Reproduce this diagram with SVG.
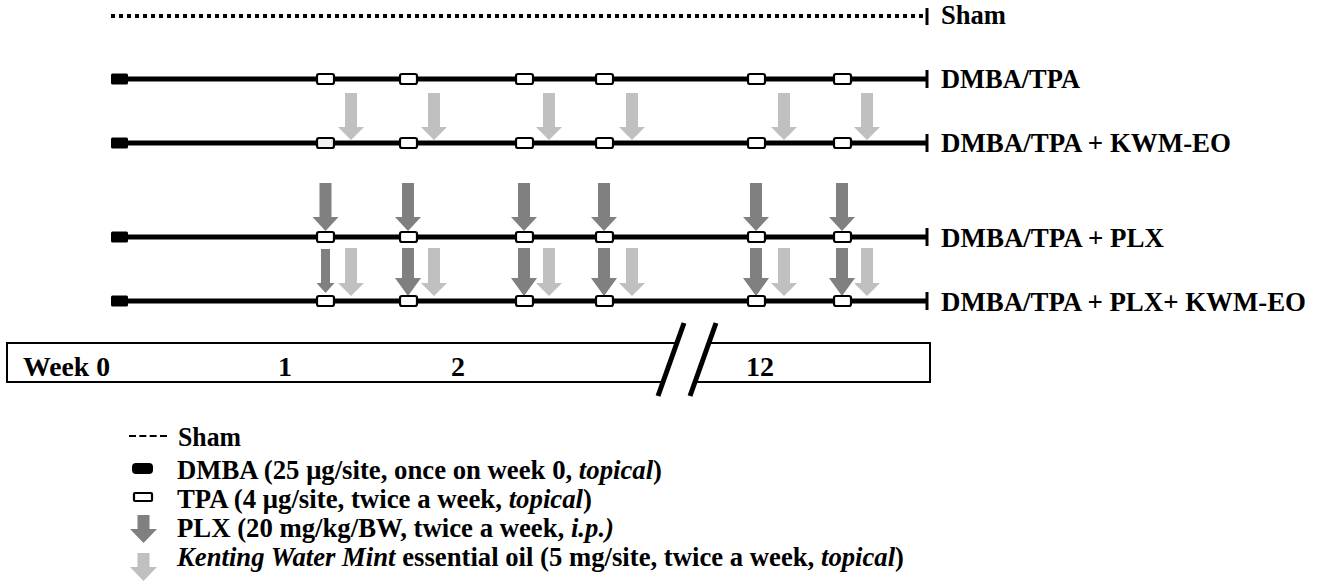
<svg xmlns="http://www.w3.org/2000/svg" width="1325" height="584" viewBox="0 0 1325 584">
<defs>
<style>
text{font-family:'Liberation Serif','Tinos','Times New Roman','Nimbus Roman','DejaVu Serif','Noto Serif',serif;font-weight:bold;fill:#000}
.lbl{font-size:26.5px}
.leg{font-size:26.5px}
.wk{font-size:28px}
.it{font-style:italic}
.tl{stroke:#000;stroke-width:5;fill:none}
.tick{stroke:#000;stroke-width:3}
.dmba{fill:#000}
.tpa{fill:#fff;stroke:#000;stroke-width:2.2}
.plx{fill:#808080}
.kwm{fill:#c0c0c0}
</style>
</defs>
<rect width="1325" height="584" fill="#fff"/>

<g id="connectors">
<line x1="111" y1="16" x2="923" y2="16" stroke="#000" stroke-width="4" stroke-dasharray="4 4"/>
<line class="tick" x1="927" y1="8" x2="927" y2="25"/>
<line class="tl" x1="120" y1="79" x2="927" y2="79"/>
<line class="tick" x1="927" y1="70" x2="927" y2="88"/>
<line class="tl" x1="120" y1="143" x2="927" y2="143"/>
<line class="tick" x1="927" y1="134" x2="927" y2="152"/>
<line class="tl" x1="120" y1="237" x2="927" y2="237"/>
<line class="tick" x1="927" y1="228" x2="927" y2="246"/>
<line class="tl" x1="120" y1="301" x2="927" y2="301"/>
<line class="tick" x1="927" y1="292" x2="927" y2="310"/>
</g>

<g id="dmba-markers">
<rect class="dmba" x="111" y="73.5" width="17" height="11" rx="1.5"/>
<rect class="dmba" x="111" y="137.5" width="17" height="11" rx="1.5"/>
<rect class="dmba" x="111" y="231.5" width="17" height="11" rx="1.5"/>
<rect class="dmba" x="111" y="295.5" width="17" height="11" rx="1.5"/>
</g>

<g id="kwm-arrows">
<path class="kwm" d="M345 93h12v34h7l-13 13l-13-13h7z"/>
<path class="kwm" d="M428 93h12v34h7l-13 13l-13-13h7z"/>
<path class="kwm" d="M543 93h12v34h7l-13 13l-13-13h7z"/>
<path class="kwm" d="M626 93h12v34h7l-13 13l-13-13h7z"/>
<path class="kwm" d="M778 93h12v34h7l-13 13l-13-13h7z"/>
<path class="kwm" d="M861 93h12v34h7l-13 13l-13-13h7z"/>
<path class="kwm" d="M345 248h12v35h7l-13 13l-13-13h7z"/>
<path class="kwm" d="M428 248h12v35h7l-13 13l-13-13h7z"/>
<path class="kwm" d="M543 248h12v35h7l-13 13l-13-13h7z"/>
<path class="kwm" d="M626 248h12v35h7l-13 13l-13-13h7z"/>
<path class="kwm" d="M778 248h12v35h7l-13 13l-13-13h7z"/>
<path class="kwm" d="M861 248h12v35h7l-13 13l-13-13h7z"/>
</g>

<g id="plx-arrows">
<path class="plx" d="M319.5 183h12v34h7l-13 14l-13-14h7z"/>
<path class="plx" d="M402 183h12v34h7l-13 14l-13-14h7z"/>
<path class="plx" d="M518 183h12v34h7l-13 14l-13-14h7z"/>
<path class="plx" d="M598 183h12v34h7l-13 14l-13-14h7z"/>
<path class="plx" d="M750 183h12v34h7l-13 14l-13-14h7z"/>
<path class="plx" d="M836 183h12v34h7l-13 14l-13-14h7z"/>
<path class="plx" d="M321 249h9v34h4.5l-9 10l-9-10h4.5z"/>
<path class="plx" d="M402 248h12v30h7l-13 18l-13-18h7z"/>
<path class="plx" d="M518 248h12v30h7l-13 18l-13-18h7z"/>
<path class="plx" d="M598 248h12v30h7l-13 18l-13-18h7z"/>
<path class="plx" d="M750 248h12v30h7l-13 18l-13-18h7z"/>
<path class="plx" d="M836 248h12v30h7l-13 18l-13-18h7z"/>
</g>

<g id="tpa-markers">
<rect class="tpa" x="317" y="74" width="17" height="10" rx="2"/>
<rect class="tpa" x="400" y="74" width="17" height="10" rx="2"/>
<rect class="tpa" x="516" y="74" width="17" height="10" rx="2"/>
<rect class="tpa" x="596" y="74" width="17" height="10" rx="2"/>
<rect class="tpa" x="748" y="74" width="17" height="10" rx="2"/>
<rect class="tpa" x="834" y="74" width="17" height="10" rx="2"/>
<rect class="tpa" x="317" y="138" width="17" height="10" rx="2" style="fill:#f0f0f0"/>
<rect class="tpa" x="400" y="138" width="17" height="10" rx="2"/>
<rect class="tpa" x="516" y="138" width="17" height="10" rx="2"/>
<rect class="tpa" x="596" y="138" width="17" height="10" rx="2"/>
<rect class="tpa" x="748" y="138" width="17" height="10" rx="2"/>
<rect class="tpa" x="834" y="138" width="17" height="10" rx="2"/>
<rect class="tpa" x="317" y="232" width="17" height="10" rx="2"/>
<rect class="tpa" x="400" y="232" width="17" height="10" rx="2"/>
<rect class="tpa" x="516" y="232" width="17" height="10" rx="2"/>
<rect class="tpa" x="596" y="232" width="17" height="10" rx="2"/>
<rect class="tpa" x="748" y="232" width="17" height="10" rx="2"/>
<rect class="tpa" x="834" y="232" width="17" height="10" rx="2"/>
<rect class="tpa" x="317" y="296" width="17" height="10" rx="2"/>
<rect class="tpa" x="400" y="296" width="17" height="10" rx="2"/>
<rect class="tpa" x="516" y="296" width="17" height="10" rx="2"/>
<rect class="tpa" x="596" y="296" width="17" height="10" rx="2"/>
<rect class="tpa" x="748" y="296" width="17" height="10" rx="2"/>
<rect class="tpa" x="834" y="296" width="17" height="10" rx="2"/>
</g>

<g id="group-labels">
<text class="lbl" x="941" y="24" textLength="65" lengthAdjust="spacingAndGlyphs">Sham</text>
<text class="lbl" x="941" y="88" textLength="139" lengthAdjust="spacingAndGlyphs">DMBA/TPA</text>
<text class="lbl" x="941" y="152" textLength="290" lengthAdjust="spacingAndGlyphs">DMBA/TPA + KWM-EO</text>
<text class="lbl" x="941" y="247" textLength="223" lengthAdjust="spacingAndGlyphs">DMBA/TPA + PLX</text>
<text class="lbl" x="941" y="311" textLength="365" lengthAdjust="spacingAndGlyphs">DMBA/TPA + PLX+ KWM-EO</text>
</g>

<g id="week-axis">
<rect x="7" y="343" width="923" height="39" fill="#fff" stroke="#000" stroke-width="2"/>
<polygon points="659,396 684,323 716,323 691,396" fill="#fff"/>
<line x1="658" y1="396" x2="684" y2="323" stroke="#000" stroke-width="5"/>
<line x1="690" y1="396" x2="716" y2="323" stroke="#000" stroke-width="5"/>
<text class="wk" x="23" y="376" textLength="87" lengthAdjust="spacingAndGlyphs">Week 0</text>
<text class="wk" x="285" y="376" text-anchor="middle">1</text>
<text class="wk" x="458" y="376" text-anchor="middle">2</text>
<text class="wk" x="760" y="376" text-anchor="middle">12</text>
</g>

<g id="legend">
<line x1="129" y1="436" x2="167" y2="436" stroke="#000" stroke-width="2" stroke-dasharray="7 3.33"/>
<text class="leg" x="178" y="446" textLength="63" lengthAdjust="spacingAndGlyphs">Sham</text>
<rect class="dmba" x="132" y="463" width="21" height="11" rx="4"/>
<text class="leg" x="177" y="479" textLength="485" lengthAdjust="spacingAndGlyphs">DMBA (25 μg/site, once on week 0, <tspan class="it">topical</tspan>)</text>
<rect class="tpa" x="134" y="493" width="18" height="8" rx="1"/>
<text class="leg" x="177" y="508" textLength="415" lengthAdjust="spacingAndGlyphs">TPA (4 μg/site, twice a week, <tspan class="it">topical</tspan>)</text>
<path class="plx" d="M137.5 515h12v14h7.5l-13.5 14l-13.5-14h7.5z"/>
<text class="leg" x="177" y="537" textLength="437" lengthAdjust="spacingAndGlyphs">PLX (20 mg/kg/BW, twice a week, <tspan class="it">i.p.)</tspan></text>
<path class="kwm" d="M137.5 553h12v14h7.5l-13.5 14l-13.5-14h7.5z"/>
<text class="leg" x="177" y="566" textLength="727" lengthAdjust="spacingAndGlyphs"><tspan class="it">Kenting Water Mint</tspan> essential oil (5 mg/site, twice a week, <tspan class="it">topical</tspan>)</text>
</g>
</svg>
